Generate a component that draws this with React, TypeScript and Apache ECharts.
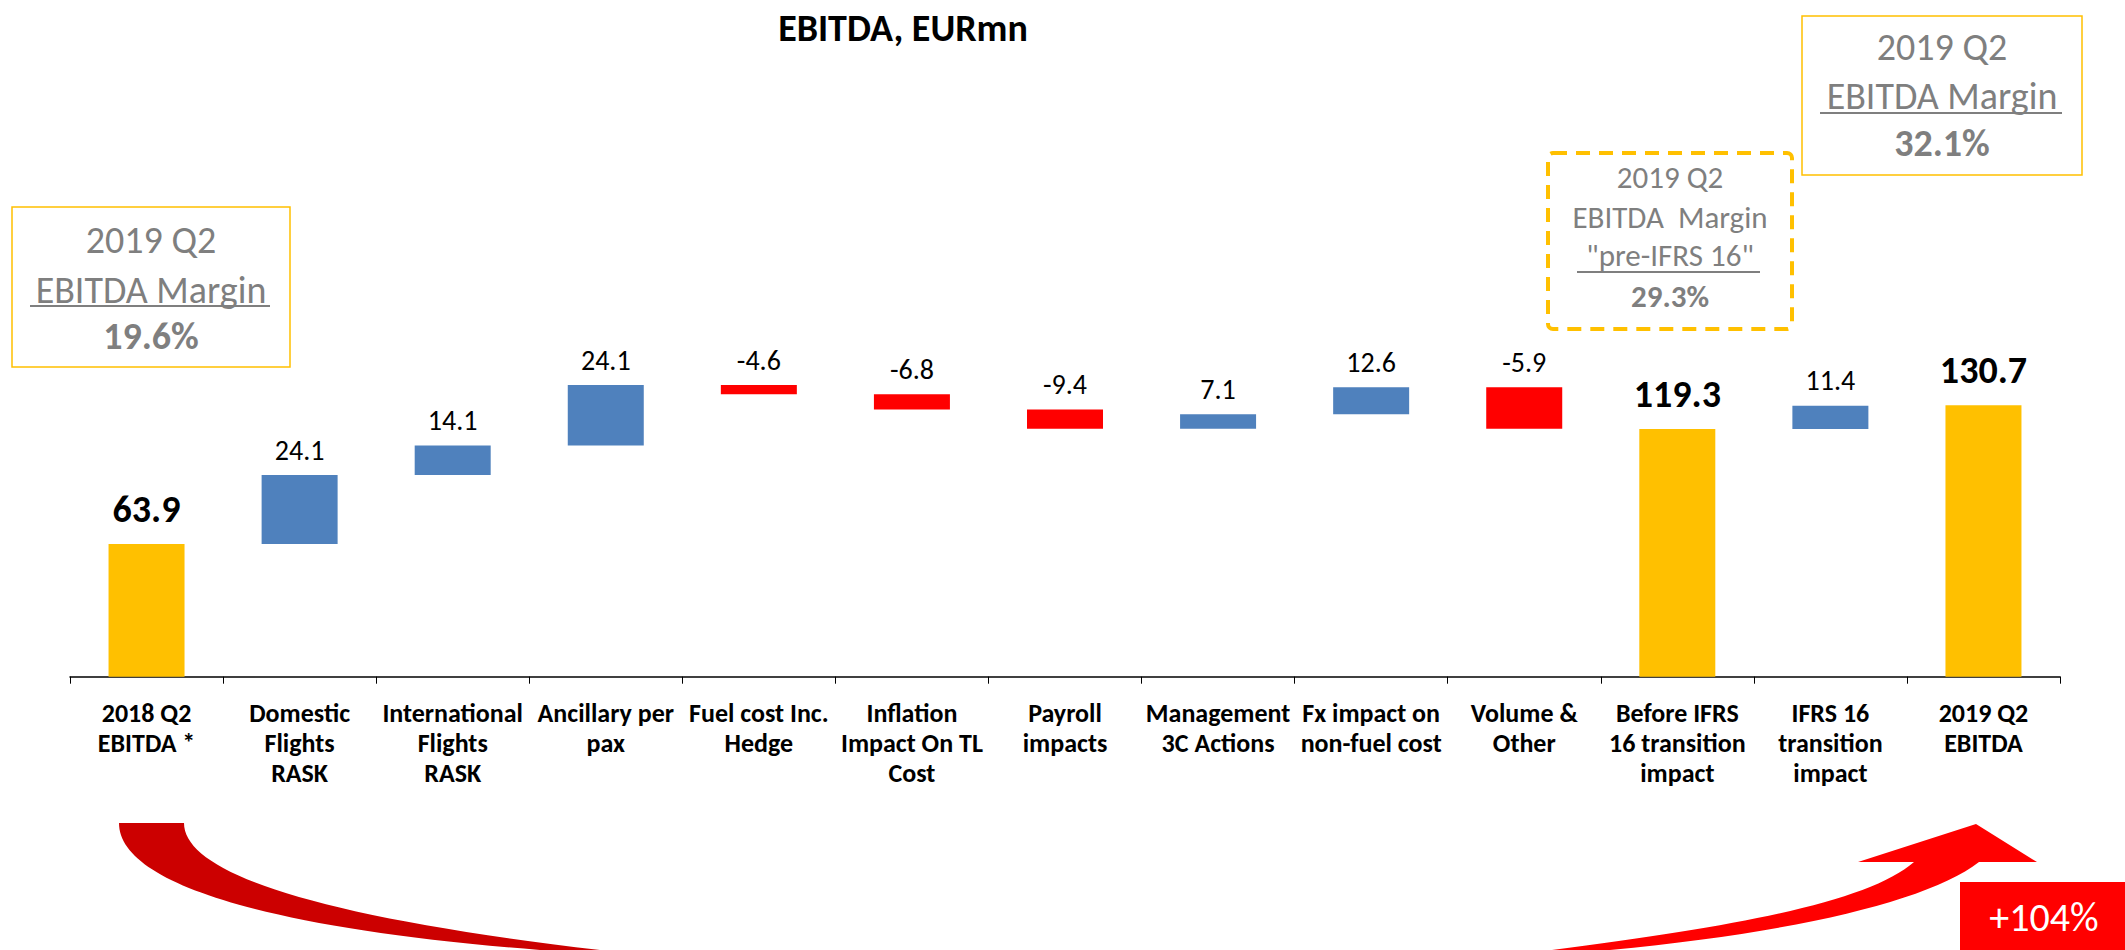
import React, { useEffect, useRef } from "react";
import * as echarts from "echarts";

// ---- data ----
const categories = [
  "2018 Q2\nEBITDA *",
  "Domestic\nFlights\nRASK",
  "International\nFlights\nRASK",
  "Ancillary per\npax",
  "Fuel cost Inc.\nHedge",
  "Inflation\nImpact On TL\nCost",
  "Payroll\nimpacts",
  "Management\n3C Actions",
  "Fx impact on\nnon-fuel cost",
  "Volume &\nOther",
  "Before IFRS\n16 transition\nimpact",
  "IFRS 16\ntransition\nimpact",
  "2019 Q2\nEBITDA",
];
// value labels printed on the chart
const labelValues = [63.9, 24.1, 14.1, 24.1, -4.6, -6.8, -9.4, 7.1, 12.6, -5.9, 119.3, 11.4, 130.7];
// bar extents as drawn in the picture (EURmn)
const barLow = [0, 63.9, 97.1, 111.3, 136.0, 128.7, 119.4, 119.4, 126.3, 119.4, 0, 119.3, 0];
const barHigh = [63.9, 97.1, 111.3, 140.4, 140.4, 136.0, 128.7, 126.3, 139.3, 139.3, 119.3, 130.5, 130.7];
const barKind = ["total", "up", "up", "up", "down", "down", "down", "up", "up", "down", "total", "up", "total"];

const marginLeft = ["2019 Q2", "EBITDA Margin", "19.6%"];
const marginPre = ["2019 Q2", "EBITDA  Margin", "\"pre-IFRS 16\"", "29.3%"];
const marginRight = ["2019 Q2", "EBITDA Margin", "32.1%"];
const growthLabel = "+104%";

const FONT = "Carlito, 'Liberation Sans Narrow', 'Arial Narrow', 'DejaVu Sans Condensed', sans-serif";
const GRAY = "#7F7F7F";
const kindColor: Record<string, string> = { total: "#FFC000", up: "#4F81BD", down: "#FF0000" };

const leftArrowD =
  "M119 823 L184 823 C184 870 300 915 600 950 L600 975 L540 975 L540 950 C250 927 119 880 119 823 Z";
const rightArrowD =
  "M1858 862 L1976 824 L2037 862 L1979 862 C1930 900 1800 932 1610 950 L1610 975 L1550 975 L1552 950 C1750 925 1870 900 1914 862 Z";

let registered = false;
function registerShapes() {
  if (registered) return;
  echarts.graphic.registerShape("leftArrow", echarts.graphic.extendPath(leftArrowD, {}) as any);
  echarts.graphic.registerShape("rightArrow", echarts.graphic.extendPath(rightArrowD, {}) as any);
  registered = true;
}

function txt(text: string, x: number, y: number, size: number, bold = false, fill = GRAY) {
  return {
    type: "text",
    x,
    y,
    style: {
      text,
      fill,
      font: `${bold ? "bold " : ""}${size}px ${FONT}`,
      align: "center",
      verticalAlign: "middle",
    },
  };
}

function uline(x1: number, x2: number, y: number, w = 2) {
  return { type: "line", shape: { x1, y1: y, x2, y2: y }, style: { stroke: GRAY, lineWidth: w } };
}

export default function App() {
  const ref = useRef<HTMLDivElement>(null);
  useEffect(() => {
    registerShapes();
    const chart = echarts.init(ref.current!, null, { renderer: "svg" });
    const items = barHigh.map((h, i) => {
      const total = barKind[i] === "total";
      return {
        value: +(h - barLow[i]).toFixed(2),
        itemStyle: { color: kindColor[barKind[i]] },
        label: {
          show: true,
          position: "top",
          distance: total ? 16 : 11,
          fontSize: total ? 38 : 28,
          fontWeight: total ? "bold" : "normal",
          fontFamily: FONT,
          color: "#000",
          formatter: () => labelValues[i].toFixed(1),
        },
      };
    });
    const option: any = {
      animation: false,
      backgroundColor: "#fff",
      title: {
        text: "EBITDA, EURmn",
        left: 898,
        top: 4,
        textAlign: "center",
        textStyle: { fontSize: 38, fontWeight: "bold", fontFamily: FONT, color: "#000" },
      },
      grid: { left: 70, right: 65, top: 53.6, bottom: 273.3, containLabel: false },
      xAxis: {
        type: "category",
        data: categories,
        axisLine: { lineStyle: { color: "#000", width: 1.5 } },
        axisTick: { show: true, length: 7, lineStyle: { color: "#000" } },
        axisLabel: {
          interval: 0,
          margin: 21,
          fontSize: 26,
          lineHeight: 30,
          fontWeight: "bold",
          fontFamily: FONT,
          color: "#000",
          align: "center",
        },
      },
      yAxis: { type: "value", min: 0, max: 300, show: false, splitLine: { show: false } },
      series: [
        {
          type: "bar",
          stack: "w",
          barWidth: 76,
          data: barLow,
          itemStyle: { color: "transparent" },
          silent: true,
          label: { show: false },
        },
        { type: "bar", stack: "w", barWidth: 76, data: items },
      ],
      graphic: [
        { type: "leftArrow", style: { fill: "#CC0000" } },
        { type: "rightArrow", style: { fill: "#FF0000" } },
        { type: "rect", shape: { x: 1960, y: 882, width: 170, height: 70 }, style: { fill: "#FF0000" } },
        txt(growthLabel, 2044, 917, 40, false, "#fff"),
        // left margin box
        { type: "rect", shape: { x: 12, y: 207, width: 278, height: 160 }, style: { fill: "none", stroke: "#FFC000", lineWidth: 1.5 } },
        txt(marginLeft[0], 151, 240, 38),
        txt(marginLeft[1], 151, 290, 38),
        uline(30, 270, 306),
        txt(marginLeft[2], 151, 336, 38, true),
        // pre-IFRS dashed box
        {
          type: "rect",
          shape: { x: 1548, y: 153, width: 244, height: 176, r: 5 },
          style: { fill: "none", stroke: "#FFC000", lineWidth: 4, lineDash: [14, 9] },
        },
        txt(marginPre[0], 1670, 177, 31),
        txt(marginPre[1], 1670, 217, 31),
        txt(marginPre[2], 1670, 255, 31),
        uline(1577, 1760, 272, 2),
        txt(marginPre[3], 1670, 296, 31, true),
        // right margin box
        { type: "rect", shape: { x: 1802, y: 16, width: 280, height: 159 }, style: { fill: "none", stroke: "#FFC000", lineWidth: 1.5 } },
        txt(marginRight[0], 1942, 47, 38),
        txt(marginRight[1], 1942, 96, 38),
        uline(1820, 2062, 113),
        txt(marginRight[2], 1942, 143, 38, true),
      ],
    };
    chart.setOption(option);
    return () => chart.dispose();
  }, []);
  return (
    <div
      ref={ref}
      style={{ position: "fixed", left: 0, top: 0, width: 2125, height: 950, background: "#fff" }}
    />
  );
}
